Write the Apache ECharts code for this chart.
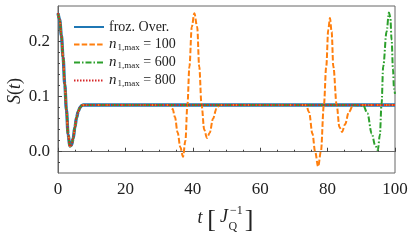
<!DOCTYPE html>
<html>
<head>
<meta charset="utf-8">
<script src="https://cdn.jsdelivr.net/npm/echarts@6/dist/echarts.min.js"></script>
<style>html,body{margin:0;padding:0;background:#fff}#c{width:415px;height:242px}</style>
</head>
<body>
<div id="c"></div>
<script>
// ---- data ----
const seriesNames = ['froz. Over.', 'n1max=100', 'n1max=600', 'n1max=800'];
const legendNumbers = ['', '100', '600', '800'];
// initial decay (all curves)
const tDecay = [0, 0.5, 1, 1.5, 2, 2.5, 3, 3.5, 4, 4.5, 5, 5.5, 6, 6.5, 7, 7.5, 8, 10];
const sDecay = [0.252, 0.24, 0.212, 0.172, 0.123, 0.076, 0.032, 0.01, 0.012, 0.024, 0.044, 0.062, 0.073, 0.080, 0.084, 0.085, 0.085, 0.085];
// plateau
const tPlateau = [20, 30, 100];
const sPlateau = [0.085, 0.085, 0.085];
// n1max = 100 revivals
const tRev100a = [33, 34, 34.7, 35.5, 36.3, 37.1, 37.8, 38.4, 39.0, 39.7, 40.45, 41.3, 41.9, 42.6, 43.4, 44.2, 45.0, 46.0, 47.0, 48.0, 55, 65, 72];
const sRev100a = [0.085, 0.078, 0.063, 0.035, 0.008, -0.009, 0.02, 0.085, 0.155, 0.227, 0.252, 0.227, 0.155, 0.085, 0.04, 0.025, 0.034, 0.06, 0.078, 0.085, 0.085, 0.085, 0.085];
const tRev100b = [73.6, 74.5, 75.5, 76.3, 77.2, 78.0, 78.9, 79.6, 80.2, 80.7, 81.2, 81.7, 82.7, 83.5, 84.3, 85.2, 86.3, 87.6, 90, 100];
const sRev100b = [0.085, 0.072, 0.033, 0.0, -0.027, 0.0, 0.085, 0.155, 0.222, 0.243, 0.218, 0.155, 0.085, 0.045, 0.036, 0.05, 0.072, 0.085, 0.085, 0.085];
// n1max = 600 revival
const tRev600 = [88, 90.6, 91.8, 93.1, 94.1, 94.9, 95.5, 96.0, 96.5, 97.5, 98.2, 98.6, 99.0, 99.4, 99.7, 100];
const sRev600 = [0.085, 0.084, 0.07, 0.033, 0.012, 0.003, 0.03, 0.085, 0.155, 0.218, 0.253, 0.245, 0.203, 0.15, 0.115, 0.105];
// tick labels
const xTicks = [0, 20, 40, 60, 80, 100];
const yTicks = [0.0, 0.1, 0.2];
const yMinorTicks = [-0.02, 0.02, 0.04, 0.06, 0.08, 0.12, 0.14, 0.16, 0.18, 0.22, 0.24];

// ---- build series data ----
function pairs(t, s) { return t.map((v, i) => [v, s[i]]); }
const frozData = pairs(tDecay, sDecay).concat(pairs(tPlateau, sPlateau));
const n100Data = pairs(tDecay, sDecay).concat(pairs([20, 30], [0.085, 0.085]), pairs(tRev100a, sRev100a), pairs(tRev100b, sRev100b));
const n600Data = pairs(tDecay, sDecay).concat(pairs([20, 40, 60, 80], [0.085, 0.085, 0.085, 0.085]), pairs(tRev600, sRev600));
const n800Data = frozData.slice();

const FONT = '"Liberation Serif", serif';
const TXT = '#222';
const chart = echarts.init(document.getElementById('c'), null, {renderer: 'canvas'});

const common = {type: 'line', symbol: 'none', showSymbol: false, smooth: 0.35, smoothMonotone: 'x', animation: false, clip: true};
const labelStyle = {fontFamily: FONT, fontSize: 17, color: TXT};

chart.setOption({
  animation: false,
  textStyle: {fontFamily: FONT, color: TXT},
  grid: {left: 58, right: 20, top: 6, bottom: 69, show: true, borderColor: '#666', borderWidth: 1, backgroundColor: 'transparent'},
  xAxis: {
    type: 'value', min: 0, max: 100, interval: 20,
    axisLine: {show: true, lineStyle: {color: '#666', width: 1}},
    axisTick: {show: true, inside: true, length: 4, lineStyle: {color: '#444'}},
    minorTick: {show: true, splitNumber: 4, length: 2, lineStyle: {color: '#444'}},
    splitLine: {show: false},
    axisLabel: Object.assign({margin: 8, formatter: v => String(v)}, labelStyle)
  },
  yAxis: [{
    type: 'value', min: -0.0387, max: 0.265,
    axisLine: {show: true, lineStyle: {color: '#666', width: 1}},
    axisTick: {show: true, inside: true, length: 4, lineStyle: {color: '#444'}, customValues: yTicks},
    splitLine: {show: false},
    axisLabel: Object.assign({margin: 8, customValues: yTicks, formatter: v => v.toFixed(1)}, labelStyle)
  }, {
    type: 'value', min: -0.0387, max: 0.265, position: 'left', offset: 0,
    axisLine: {show: false},
    axisTick: {show: true, inside: true, length: 2, lineStyle: {color: '#444'}, customValues: yMinorTicks},
    splitLine: {show: false},
    axisLabel: {show: false}
  }],
  legend: {
    left: 68, top: 15, orient: 'vertical', itemWidth: 30, itemHeight: 14, itemGap: 3,
    data: seriesNames,
    itemStyle: {color: 'transparent', borderWidth: 0, opacity: 0},
    textStyle: {fontFamily: FONT, fontSize: 14, color: TXT, padding: [0, 0, 0, 0],
      rich: {
        n: {fontFamily: FONT, fontStyle: 'italic', fontSize: 15, color: TXT},
        sub: {fontFamily: FONT, fontSize: 9, color: TXT, padding: [6, 0, 0, 1]},
        eq: {fontFamily: FONT, fontSize: 14, color: TXT}
      }},
    formatter: name => {
      const i = seriesNames.indexOf(name);
      if (i === 0) return name;
      return '{n|n}{sub|1,max}{eq| = ' + legendNumbers[i] + '}';
    }
  },
  series: [
    Object.assign({}, common, {name: seriesNames[0], data: frozData, z: 1, lineStyle: {color: '#1f77b4', width: 3.3}, itemStyle: {color: '#1f77b4'}}),
    Object.assign({}, common, {name: seriesNames[1], data: n100Data, z: 2, lineStyle: {color: '#ff7f0e', width: 2, type: [5.5, 2.2]}, itemStyle: {color: '#ff7f0e'}}),
    Object.assign({}, common, {name: seriesNames[2], data: n600Data, z: 3, lineStyle: {color: '#2ca02c', width: 2, type: [6, 2, 1.5, 2]}, itemStyle: {color: '#2ca02c'}}),
    Object.assign({}, common, {name: seriesNames[3], data: n800Data, z: 4, lineStyle: {color: '#d62728', width: 2, type: [1.5, 1.5]}, itemStyle: {color: '#d62728'}})
  ],
  graphic: [
    {type: 'text', x: 15, y: 91, rotation: Math.PI / 2,
      style: {text: '{i|S}{r|(}{i|t}{r|)}', align: 'center', verticalAlign: 'middle',
        rich: {i: {fontFamily: FONT, fontStyle: 'italic', fontSize: 18, fill: TXT}, r: {fontFamily: FONT, fontSize: 18, fill: TXT}}}},
    {type: 'text', x: 200, y: 218, style: {text: 't', font: 'italic 18px "Liberation Serif"', fill: TXT, align: 'center', verticalAlign: 'middle'}},
    {type: 'text', x: 211.5, y: 220, style: {text: '[', font: '26px "Liberation Serif"', fill: TXT, align: 'center', verticalAlign: 'middle'}},
    {type: 'text', x: 224, y: 217, style: {text: 'J', font: 'italic 18px "Liberation Serif"', fill: TXT, align: 'center', verticalAlign: 'middle'}},
    {type: 'text', x: 228.5, y: 226.5, style: {text: 'Q', font: '12px "Liberation Serif"', fill: TXT, align: 'left', verticalAlign: 'middle'}},
    {type: 'text', x: 230, y: 211, style: {text: '\u22121', font: '12px "Liberation Serif"', fill: TXT, align: 'left', verticalAlign: 'middle'}},
    {type: 'text', x: 249, y: 220, style: {text: ']', font: '26px "Liberation Serif"', fill: TXT, align: 'center', verticalAlign: 'middle'}}
  ]
});
</script>
</body>
</html>
